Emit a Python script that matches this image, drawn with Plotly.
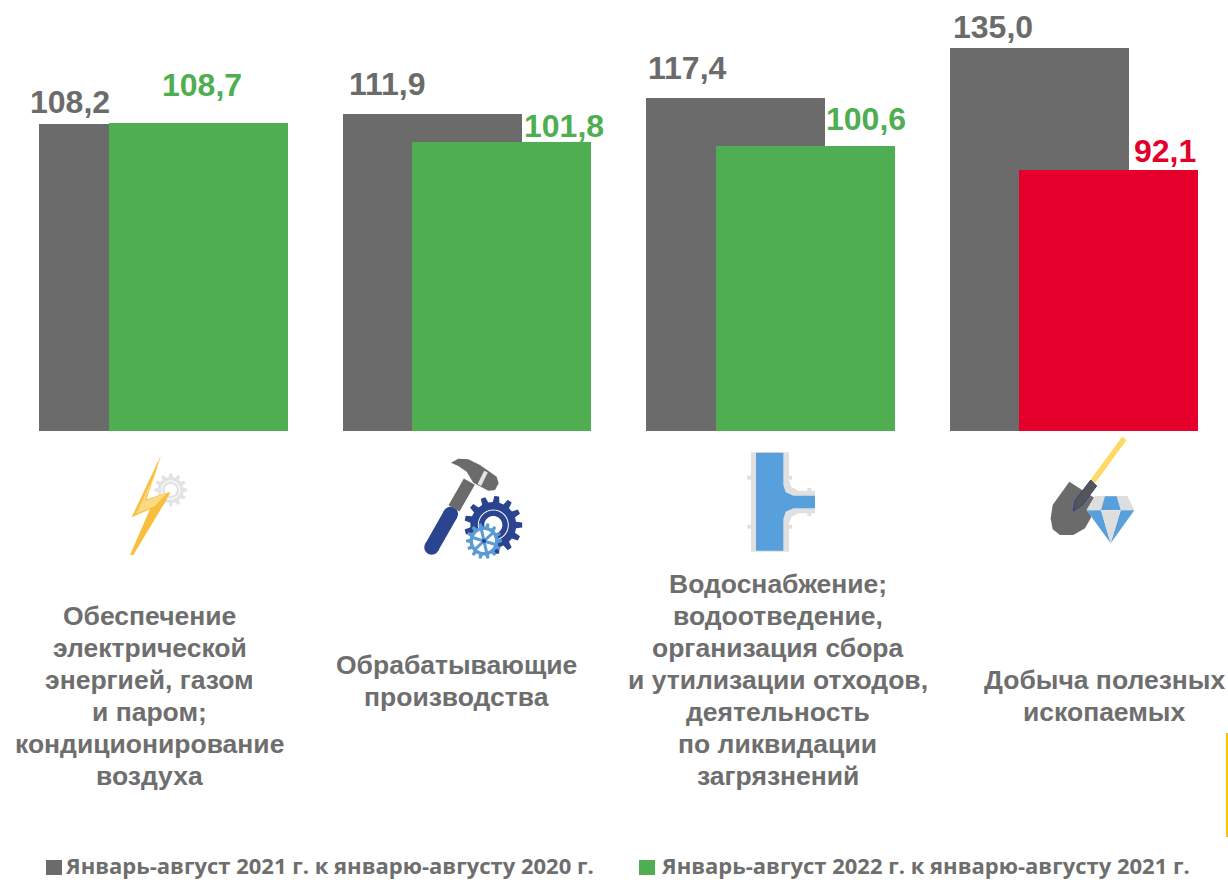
import math
import plotly.graph_objects as go

W, H = 1228, 880

# --- data ---
categories = [
    ["Обеспечение", "электрической", "энергией, газом", "и паром;", "кондиционирование", "воздуха"],
    ["Обрабатывающие", "производства"],
    ["Водоснабжение;", "водоотведение,", "организация сбора", "и утилизации отходов,", "деятельность", "по ликвидации", "загрязнений"],
    ["Добыча полезных", "ископаемых"],
]
series_2021 = [108.2, 111.9, 117.4, 135.0]
series_2022 = [108.7, 101.8, 100.6, 92.1]
name_2021 = "Январь-август 2021 г. к январю-августу 2020 г."
name_2022 = "Январь-август 2022 г. к январю-августу 2021 г."

# --- styling / layout constants (pixels) ---
GRAY = "#6B6B6B"
GREEN = "#4FAE52"
RED = "#E4002B"
TXT = "#6E6E6E"
BASE_Y = 431
PX_PER_UNIT = 383 / 135.0
CAT_STEP = 303.5
CAT0 = 163.2
bar_w = 179 / CAT_STEP
off_gray = -124.0 / CAT_STEP
off_green = -54.5 / CAT_STEP
gray_dx = [-93.2, -79.5, -83, -81]
gray_dy = [22, 30, 30, 21]
green_dx = [38.8, 96.8, 95.5, 91.5]
green_dy = [38, 16, 27, 19]
cat_cx = [149.5, 456, 778, 1104]
cat_cy = [696, 681, 680, 696]
LINE_H = 32

xs = list(range(len(categories)))
colors_2022 = [GREEN if v >= 100 else RED for v in series_2022]

fig = go.Figure()
fig.add_bar(x=xs, y=series_2021, name=name_2021, marker_color=GRAY, marker_line_width=0,
            width=bar_w, offset=off_gray, showlegend=False)
fig.add_bar(x=xs, y=series_2022, name=name_2022, marker_color=colors_2022, marker_line_width=0,
            width=bar_w, offset=off_green, showlegend=False)

fmt = lambda v: f"{v:.1f}".replace(".", ",")
ann = []
for i in xs:
    ann.append(dict(x=i, y=series_2021[i], xref="x", yref="y", text=fmt(series_2021[i]),
                    xshift=gray_dx[i], yshift=gray_dy[i], showarrow=False, yanchor="middle",
                    font=dict(family="Liberation Sans", size=32, color=GRAY, weight="bold")))
    ann.append(dict(x=i, y=series_2022[i], xref="x", yref="y", text=fmt(series_2022[i]),
                    xshift=green_dx[i], yshift=green_dy[i], showarrow=False, yanchor="middle",
                    font=dict(family="Liberation Sans", size=32, color=colors_2022[i], weight="bold")))
    n = len(categories[i])
    for j, line in enumerate(categories[i]):
        cy = cat_cy[i] + (j - (n - 1) / 2) * LINE_H
        ann.append(dict(x=cat_cx[i] / W, y=1 - cy / H, xref="paper", yref="paper",
                        text=line, showarrow=False, xanchor="center", yanchor="middle", align="center",
                        font=dict(family="Liberation Sans", size=26.5, color=TXT, weight="bold")))
for txt, x0 in ((name_2021, 66), (name_2022, 662)):
    ann.append(dict(x=x0 / W, y=1 - 865 / H, xref="paper", yref="paper", text=txt, showarrow=False,
                    xanchor="left", yanchor="middle", xshift=-3,
                    font=dict(family="Open Sans", size=22, color=TXT, weight="bold")))

# --- decorative shapes (pixel helpers) ---
shapes = []

def pt(x, y):
    return f"{x / W:.5f},{1 - y / H:.5f}"

def poly(points, color, line=None, lw=0, ox=0, oy=0, k=1.0):
    d = "M" + " L".join(pt(ox + x * k, oy + y * k) for x, y in points) + " Z"
    shapes.append(dict(type="path", xref="paper", yref="paper", path=d, fillcolor=color,
                       line=dict(color=line or color, width=lw)))

def circle(cx, cy, r, color):
    pts = [(cx + r * math.cos(t * math.pi / 24), cy + r * math.sin(t * math.pi / 24)) for t in range(48)]
    poly(pts, color)

def stroke(p, q, width, color, cap_round=False, ox=0, oy=0, k=1.0):
    x0, y0, x1, y1 = ox + p[0] * k, oy + p[1] * k, ox + q[0] * k, oy + q[1] * k
    width = width * k
    a = math.atan2(y1 - y0, x1 - x0)
    nx, ny = -math.sin(a) * width / 2, math.cos(a) * width / 2
    pts = [(x0 + nx, y0 + ny), (x1 + nx, y1 + ny), (x1 - nx, y1 - ny), (x0 - nx, y0 - ny)]
    poly(pts, color)
    if cap_round:
        circle(x0, y0, width / 2, color)
        circle(x1, y1, width / 2, color)

def gear(cx, cy, r_out, r_in, teeth, color, phase=0.0):
    pts = []
    step = 2 * math.pi / teeth
    for t in range(teeth):
        a = phase + t * step
        for da, r in ((-0.30, r_in), (-0.17, r_out), (0.17, r_out), (0.30, r_in)):
            pts.append((cx + r * math.cos(a + da * step), cy + r * math.sin(a + da * step)))
    poly(pts, color)

# legend swatches
poly([(46, 860), (62, 860), (62, 875), (46, 875)], GRAY)
poly([(639, 860), (655, 860), (655, 875), (639, 875)], GREEN)
# thin rule on the right
poly([(1226, 733), (1228, 733), (1228, 837), (1226, 837)], "#FFC000")

# lightning + gray gear (zoom coords, origin 100,440, scale 1/3)
o1 = dict(ox=100, oy=440, k=1 / 3)
gear(170.7, 490, 16.5, 13, 12, "#E3E3E3")
circle(170.7, 490, 9.5, "#FFFFFF")
circle(170.7, 490, 8.5, "#E3E3E3")
circle(170.7, 490, 6, "#FFFFFF")
poly([(183, 45), (95, 232), (150, 208), (90, 345), (100, 345), (190, 195), (212, 155), (140, 178)], "#F9BE3B", **o1)
poly([(175, 80), (108, 222), (165, 198), (200, 160), (135, 182)], "#FBD984", **o1)

# hammer
stroke((995, 322), (1052, 222), 44, "#2B4490", True, **o1)
stroke((1062, 205), (1108, 125), 38, GRAY, False, **o1)
poly([(1053, 68), (1075, 56), (1105, 58), (1140, 75), (1190, 110), (1196, 130), (1185, 150), (1165, 152),
      (1120, 128), (1100, 95), (1075, 78)], GRAY, **o1)
stroke((1158, 95), (1138, 135), 12, "#E3E3E3", False, **o1)
gear(493.3, 525, 29, 23, 13, "#2B4490")
circle(493.3, 525, 15.5, "#FFFFFF")
circle(493.3, 525, 14.5, "#2B4490")
circle(493.3, 525, 9, "#FFFFFF")
gear(484, 541, 18, 14.5, 14, "#5B9BD5")
circle(484, 541, 11, "#FFFFFF")
for t in range(6):
    a = t * math.pi / 3 + 0.3
    stroke((484, 541), (484 + 12 * math.cos(a), 541 + 12 * math.sin(a)), 3, "#5B9BD5")
circle(484, 541, 2, "#2B4490")

# T-pipe (zoom coords, origin 720,430)
o2 = dict(ox=720, oy=430, k=1 / 3)
BLUE = "#57A0DB"
PIPE = "#E0E0E0"
poly([(93, 67), (207, 67), (207, 150), (213, 170), (235, 182), (285, 182), (285, 250), (235, 250),
      (213, 262), (207, 282), (207, 365), (93, 365)], PIPE, **o2)
for nub in ((88, 143), (88, 290), (210, 143), (210, 290), (268, 180), (268, 252)):
    poly([(nub[0] - 6, nub[1] - 6), (nub[0] + 6, nub[1] - 6), (nub[0] + 6, nub[1] + 6), (nub[0] - 6, nub[1] + 6)], PIPE, **o2)
poly([(108, 68), (190, 68), (190, 165), (197, 187), (220, 197), (285, 197), (285, 235), (220, 235),
      (197, 245), (190, 267), (190, 362), (108, 362)], BLUE, **o2)

# shovel + diamond
stroke((1213, 25), (1118, 155), 17, "#FFD966", False, **o2)
poly([(1048, 155), (1125, 205), (1112, 265), (1095, 295), (1060, 315), (1020, 315), (998, 298), (992, 265),
      (998, 225)], GRAY, **o2)
poly([(1112, 150), (1130, 168), (1087, 225), (1060, 243), (1065, 212)], "#555555", line="#2B4490", lw=1, **o2)
poly([(1125, 198), (1222, 198), (1243, 240), (1172, 340), (1100, 240)], "#FFFFFF", **o2)
poly([(1125, 198), (1222, 198), (1243, 240), (1100, 240)], "#DEDEDE", **o2)
poly([(1155, 199), (1190, 199), (1202, 240), (1143, 240)], BLUE, **o2)
poly([(1100, 241), (1143, 241), (1172, 340)], BLUE, **o2)
poly([(1243, 241), (1202, 241), (1172, 340)], BLUE, **o2)
poly([(1143, 241), (1202, 241), (1172, 340)], "#DEDEDE", **o2)

fig.update_layout(
    width=W, height=H, autosize=False,
    margin=dict(l=0, r=0, t=0, b=0),
    barmode="overlay", bargap=0,
    paper_bgcolor="white", plot_bgcolor="white",
    showlegend=False,
    xaxis=dict(range=[-CAT0 / CAT_STEP, (W - CAT0) / CAT_STEP], visible=False, fixedrange=True),
    yaxis=dict(domain=[1 - BASE_Y / H, 1], range=[0, BASE_Y / PX_PER_UNIT], visible=False, fixedrange=True),
    annotations=ann,
    shapes=shapes,
)
fig.write_html("out.html", config=dict(displayModeBar=False),
               post_script="document.body.style.margin='0';document.documentElement.style.overflow='hidden';")
